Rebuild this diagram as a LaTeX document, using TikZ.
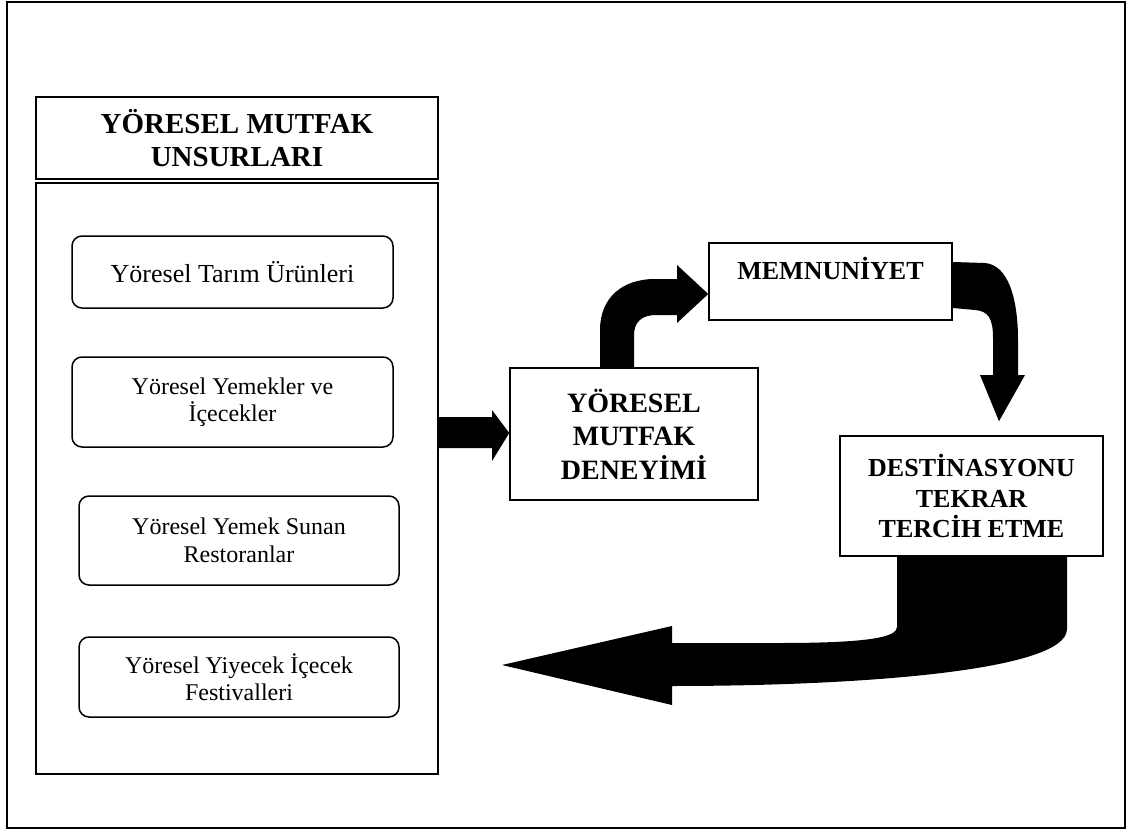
\documentclass[tikz,border=0pt]{standalone}
\usepackage{fontspec}
\setmainfont{Liberation Serif}
\usetikzlibrary{calc}
\begin{document}
\begin{tikzpicture}[x=1pt,y=-1pt,
  box/.style={draw, line width=1.5pt, inner sep=0pt, align=center},
  rbox/.style={box, rounded corners=10pt, font=\fontsize{24}{27.5}\selectfont},
  hbox/.style={box, font=\fontsize{29}{33}\selectfont\bfseries},
  fatarrow/.style={fill=black}]
\useasboundingbox (0,0) rectangle (1128,832);
% outer frame
\draw[line width=1.5pt] (7,2) rectangle (1125,828);

% left column: title and the list of local cuisine elements
\node[hbox, minimum width=402, minimum height=82] (head) at (237,138)
  {YÖRESEL MUTFAK\\UNSURLARI};
\node[box, minimum width=402, minimum height=591] (units) at (237,478.5) {};

\node[rbox, minimum width=321, minimum height=72, font=\fontsize{26}{29}\selectfont] (r1) at (232.5,272)
  {Yöresel Tarım Ürünleri};
\node[rbox, minimum width=321, minimum height=90] (r2) at (232.5,402)
  {Yöresel Yemekler ve\\İçecekler};
\node[rbox, minimum width=320, minimum height=89] (r3) at (239,540.5)
  {Yöresel Yemek Sunan\\Restoranlar};
\node[rbox, minimum width=320, minimum height=80] (r4) at (239,677)
  {Yöresel Yiyecek İçecek\\Festivalleri};

% cycle boxes
\node[box, minimum width=248, minimum height=132, font=\fontsize{28}{33.5}\selectfont\bfseries] (dene) at (634,434)
  {YÖRESEL\\MUTFAK\\DENEYİMİ};
\node[box, minimum width=243, minimum height=77] (mem) at (830.5,281.5) {};
\node[anchor=base, inner sep=0pt, font=\fontsize{26}{30}\selectfont\bfseries] (memtext) at (830.5,279) {MEMNUNİYET};
\node[box, minimum width=263, minimum height=120, font=\fontsize{26}{30.5}\selectfont\bfseries] (dest) at (971.5,496)
  {DESTİNASYONU\\TEKRAR\\TERCİH ETME};

% straight block arrow: elements -> experience
\fill[fatarrow] (units.east |- 0,417) -- (492,417) -- (492,410) -- (dene.west |- 0,433)
  -- (492,461) -- (492,448) -- (units.east |- 0,448) -- cycle;

% bent arrow: experience -> satisfaction
\fill[fatarrow] (600,0 |- dene.north) -- (600,330) .. controls (600,298) and (622,279) .. (655,279)
  -- (677,279) -- (677,265) -- (mem.west |- 0,294) -- (677,323) -- (677,315) -- (656,315)
  .. controls (642,315) and (634,322) .. (634,335) -- (634,0 |- dene.north) -- cycle;

% curved arrow: satisfaction -> revisit
\coordinate (revisit) at ($(999,0 |- dest.north)+(0,-14)$);
\fill[fatarrow] (mem.east |- 0,262) -- (985,263) .. controls (1008,265) and (1018,298) .. (1018,340)
  -- (1018,375) -- (1025,375) -- (revisit) -- (980,375) -- (993,375) -- (993,338)
  .. controls (993,318) and (988,311) .. (975,310) -- (mem.east |- 0,308) -- cycle;

% curved arrow returning to the left
\coordinate (back) at (502,665);
\fill[fatarrow] (897,0 |- dest.south) -- (1067,0 |- dest.south) -- (1067,629)
  .. controls (1067,672) and (850,686) .. (672,686) -- (672,705) -- (back) -- (672,626)
  -- (672,643) -- (780,643) .. controls (870,643) and (897,637) .. (897,627) -- cycle;
\end{tikzpicture}
\end{document}
